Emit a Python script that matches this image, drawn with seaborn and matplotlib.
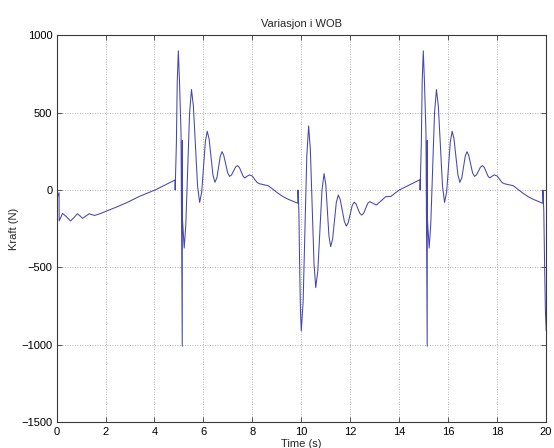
import numpy as np
import pandas as pd
import matplotlib
matplotlib.use("Agg")
import matplotlib.pyplot as plt
import seaborn as sns

# ---------------- data ----------------
# initial ramp, 0 .. 4.84 s
t_ramp = [0.0, 0.10, 0.105, 0.24, 0.40, 0.57, 0.71, 0.85, 0.96, 1.06, 1.20, 1.33,
          1.45, 1.56, 1.77, 2.04, 2.45, 2.86, 3.41, 4.02, 4.84]
f_ramp = [-60, -17, -200, -151, -172, -200, -178, -153, -168, -183, -168, -153,
          -160, -164, -153, -136, -110, -82, -39, 0, 65]

# positive burst (times relative to burst start)
t_pos = [0.000, 0.050, 0.085, 0.130, 0.175, 0.240, 0.290, 0.295, 0.300, 0.370, 0.435,
         0.5125, 0.590, 0.6675, 0.745, 0.830, 0.915, 1.000, 1.085, 1.160, 1.235,
         1.310, 1.385, 1.465, 1.545, 1.625, 1.705, 1.775, 1.845, 1.915, 1.985,
         2.065, 2.145, 2.225, 2.305, 2.385, 2.465, 2.545, 2.625, 2.700, 2.775,
         2.850, 2.925, 3.040, 3.155, 3.255, 3.355, 3.465, 3.605, 3.805, 3.955,
         4.215, 4.405, 4.625, 4.805, 5.015]
f_pos = [0, 300, 700, 900, 713, 370, -1010, 320, -190, -375, -225,
         137, 499, 650, 543, 285, 27, -80, -13, 150, 313,
         380, 332, 215, 98, 50, 79, 149, 219, 248, 225,
         168, 111, 88, 98, 123, 148, 158, 146, 118, 90,
         78, 88, 98, 90, 68, 48, 40, 35, 28, 10,
         -22, -42, -60, -72, -86]

# negative burst (times relative to burst start)
t_neg = [0.000, 0.035, 0.065, 0.100, 0.135, 0.210, 0.285, 0.360, 0.435, 0.505,
         0.580, 0.655, 0.725, 0.810, 0.895, 0.980, 1.065, 1.135, 1.200, 1.265,
         1.335, 1.415, 1.490, 1.565, 1.645, 1.725, 1.810, 1.895, 1.975, 2.055,
         2.135, 2.215, 2.295, 2.375, 2.445, 2.525, 2.605, 2.685, 2.765, 2.855,
         2.935, 3.065, 3.205, 3.395, 3.585, 3.795, 4.135, 4.545, 4.985]
f_neg = [0, -134, -456, -780, -912, -720, -250, 220, 414, 261,
         -108, -477, -631, -523, -262, -1, 106, 37, -130, -297,
         -366, -317, -199, -81, -32, -61, -132, -203, -233, -210,
         -155, -100, -78, -90, -120, -150, -162, -150, -118, -85,
         -75, -86, -97, -70, -43, -41, 0, 32, 67]

pos_starts = [4.845, 14.855]
neg_starts = [9.865, 19.875]

# ---------------- assemble the series ----------------
segments_t = [np.array(t_ramp)]
segments_f = [np.array(f_ramp, dtype=float)]
order = [("pos", pos_starts[0]), ("neg", neg_starts[0]),
         ("pos", pos_starts[1]), ("neg", neg_starts[1])]
for kind, t0 in order:
    if kind == "pos":
        segments_t.append(t0 + np.array(t_pos))
        segments_f.append(np.array(f_pos, dtype=float))
    else:
        segments_t.append(t0 + np.array(t_neg))
        segments_f.append(np.array(f_neg, dtype=float))
time = np.concatenate(segments_t)
force = np.concatenate(segments_f)
df = pd.DataFrame({"Time (s)": time, "Kraft (N)": force})

# ---------------- style ----------------
sns.set_theme(style="white")
plt.rcParams["font.family"] = ["Liberation Sans", "DejaVu Sans"]
plt.rcParams["font.size"] = 8

fig = plt.figure(figsize=(5.54, 4.48), dpi=100)
fig.patch.set_facecolor("white")
ax = fig.add_axes([56.6 / 554, 1 - 422 / 448, 489.4 / 554, 386.6 / 448])
ax.set_facecolor("white")

sns.lineplot(data=df, x="Time (s)", y="Kraft (N)", sort=False, estimator=None,
             color="#4646ae", linewidth=0.75, ax=ax)

ax.set_xlim(0, 20)
ax.set_ylim(-1500, 1000)
ax.set_xticks(np.arange(0, 21, 2))
ax.set_yticks(np.arange(-1500, 1001, 500))

ax.grid(True, color="#9a9a9a", linestyle=(0, (1, 2)), linewidth=0.6)
for s in ax.spines.values():
    s.set_visible(True)
    s.set_color("#3a3a3a")
    s.set_linewidth(0.8)
ax.tick_params(direction="in", length=3.6, width=0.6, colors="#3a3a3a",
               labelcolor="black", labelsize=8, top=True, right=True,
               bottom=True, left=True)
ax.tick_params(axis="x", pad=3.5)
ax.tick_params(axis="y", pad=3)

ax.set_title("Variasjon i WOB", fontsize=8, pad=6)
ax.set_xlabel("Time (s)", fontsize=8, labelpad=1.5)
ax.set_ylabel("Kraft (N)", fontsize=8, labelpad=2)

fig.savefig("out.png", dpi=100, facecolor="white")
